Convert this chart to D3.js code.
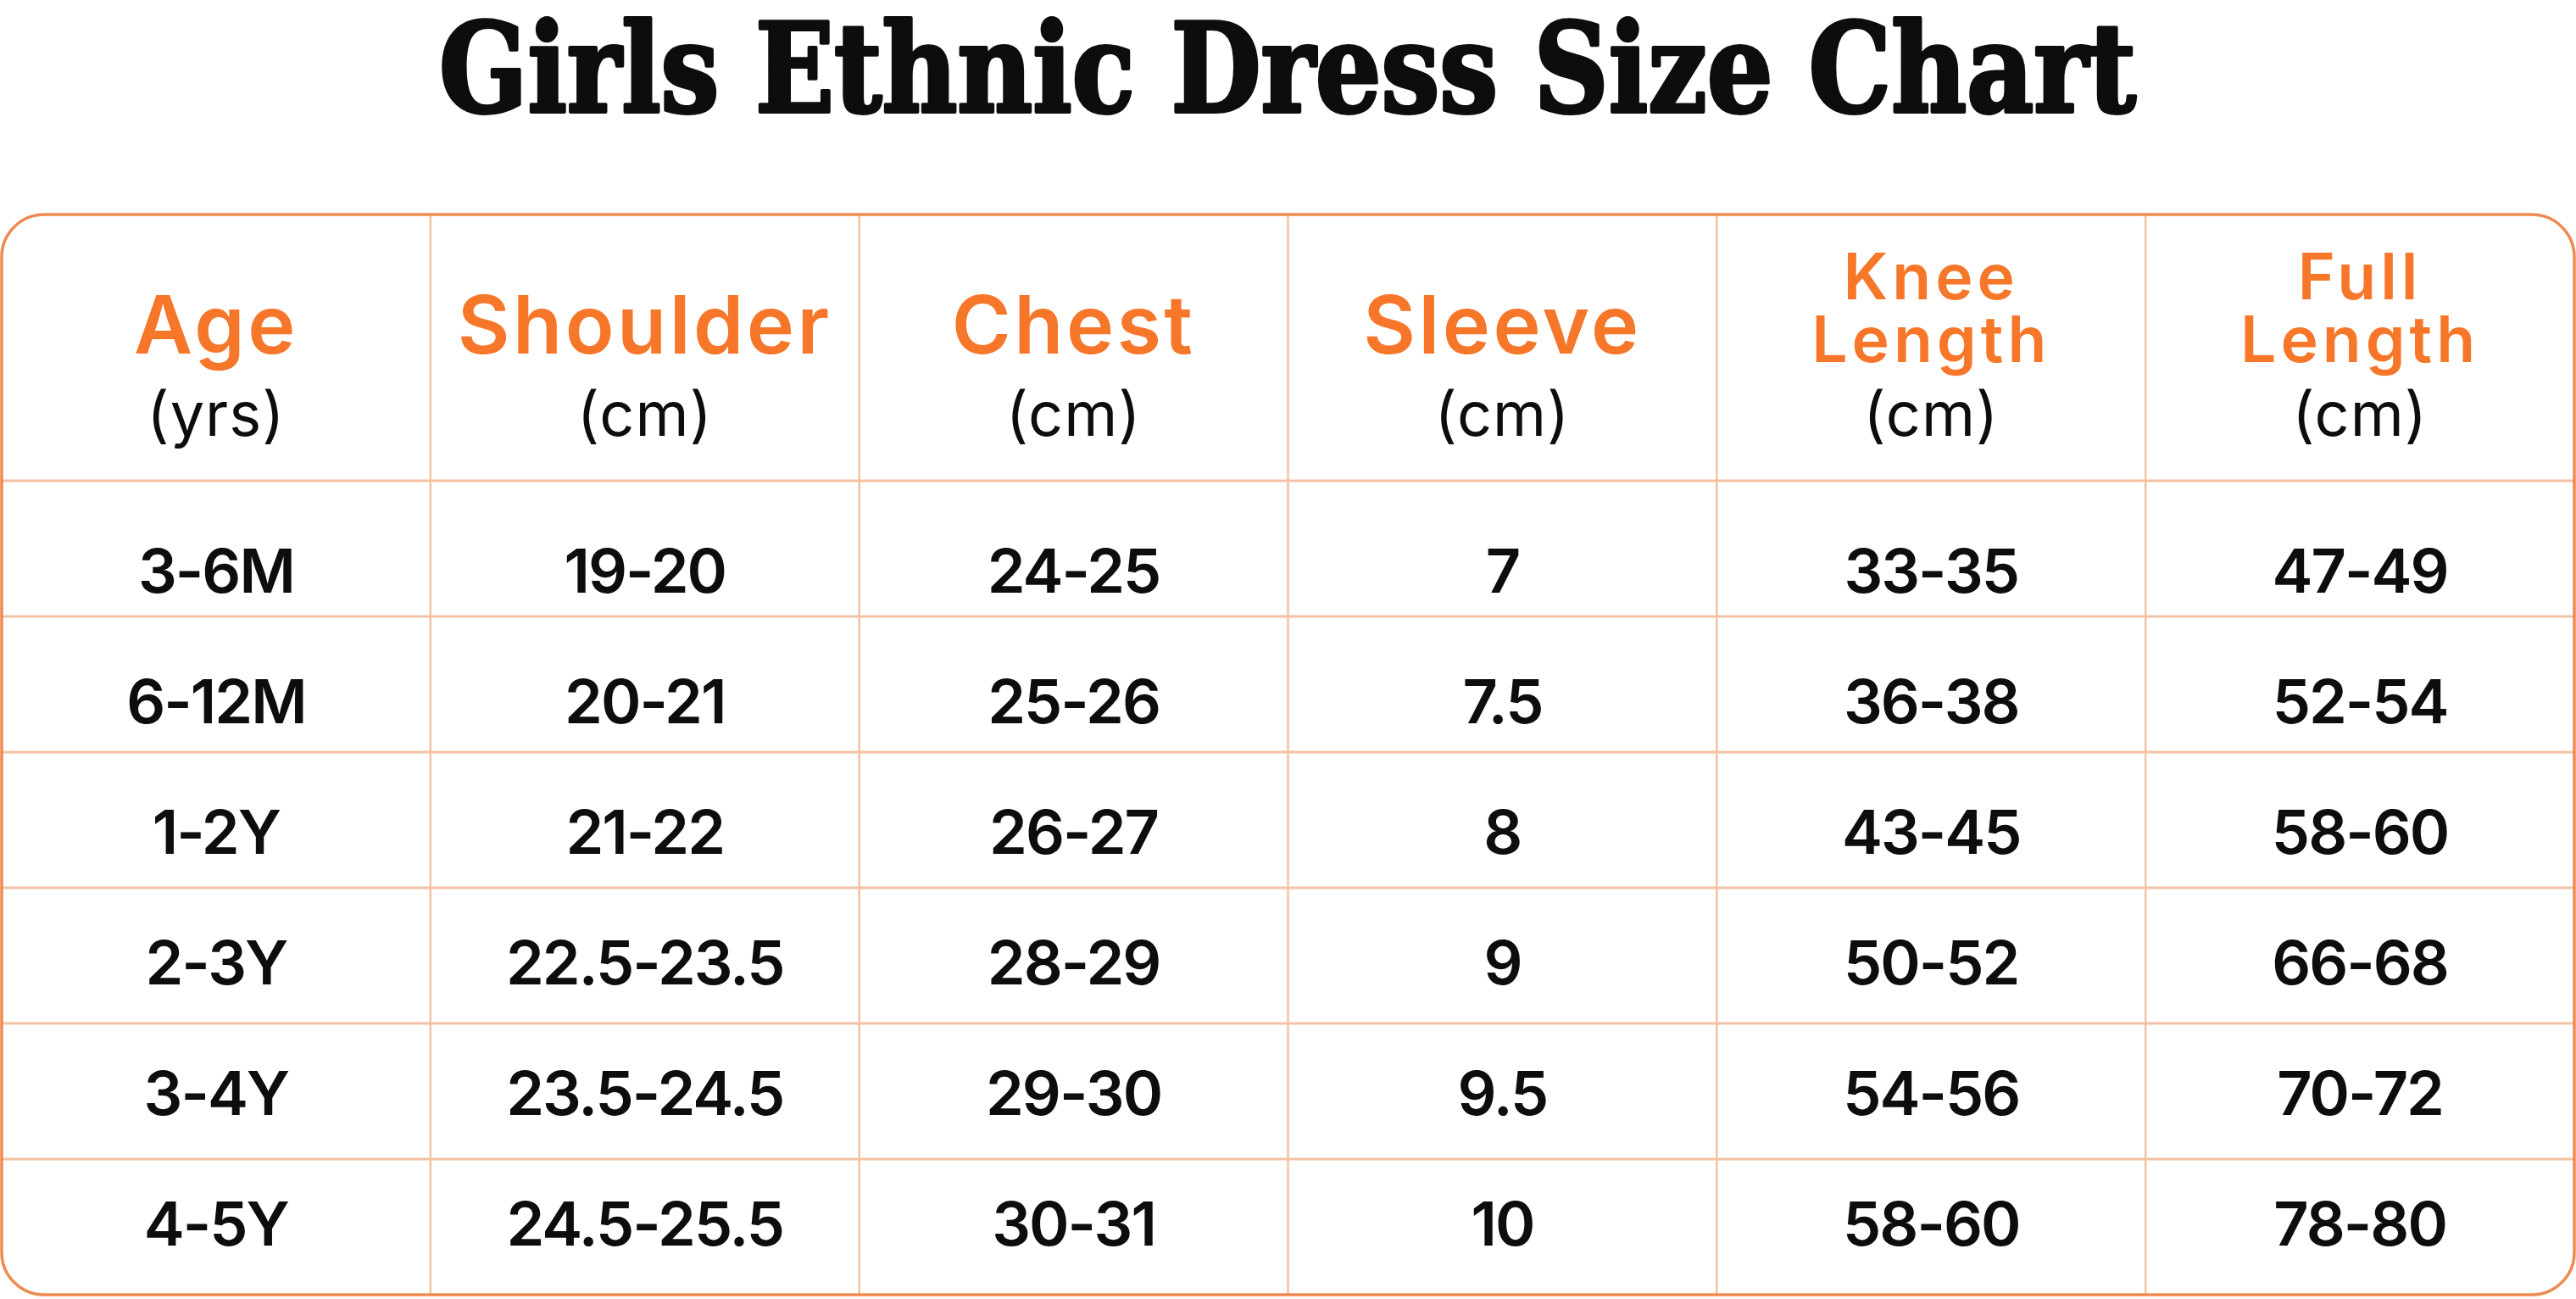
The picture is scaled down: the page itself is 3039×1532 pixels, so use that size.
<!DOCTYPE html>
<html>
<head>
<meta charset="utf-8">
<script src="https://cdn.jsdelivr.net/npm/d3@7"></script>
<style>
  body { margin: 0; background: #ffffff; }
  svg { display: block; }
</style>
</head>
<body>
<svg id="chart" width="3039" height="1532"></svg>
<script>
// Chart title
const title = "Girls Ethnic Dress Size Chart";

// Column headers (each entry = lines of the orange label) and units
const headers = [["Age"], ["Shoulder"], ["Chest"], ["Sleeve"], ["Knee", "Length"], ["Full", "Length"]];
const units = ["(yrs)", "(cm)", "(cm)", "(cm)", "(cm)", "(cm)"];

// Table values, one list per column
const ages = ["3-6M", "6-12M", "1-2Y", "2-3Y", "3-4Y", "4-5Y"];
const shoulder = ["19-20", "20-21", "21-22", "22.5-23.5", "23.5-24.5", "24.5-25.5"];
const chest = ["24-25", "25-26", "26-27", "28-29", "29-30", "30-31"];
const sleeve = ["7", "7.5", "8", "9", "9.5", "10"];
const kneeLength = ["33-35", "36-38", "43-45", "50-52", "54-56", "58-60"];
const fullLength = ["47-49", "52-54", "58-60", "66-68", "70-72", "78-80"];

const columnsData = [ages, shoulder, chest, sleeve, kneeLength, fullLength];

//colors
const orange = "#f7772a";
const borderColor = "#ee8a50";
const gridColor = "#f4c2a3";
const ink = "#0d0d0d";

const svg = d3.select("#chart");

// table box
const boxLeft = 2, boxRight = 3037, boxTop = 253, headBottom = 567, boxBottom = 1527;

//Scales for columns and rows
const xScale = d3.scaleBand()
    .domain(d3.range(headers.length))
    .range([boxLeft, boxRight]);

const yLine = d3.scaleLinear()
    .domain([0, ages.length])
    .range([headBottom, boxBottom]);

const yText = d3.scalePoint()
    .domain(d3.range(ages.length))
    .range([699, 1469]);

// Title (stroke thickens the slab letters)
svg.append("text")
    .attr("x", 518)
    .attr("y", 132)
    .attr("textLength", 2002)
    .attr("lengthAdjust", "spacingAndGlyphs")
    .attr("font-family", "'DejaVu Serif Condensed', 'DejaVu Serif', serif")
    .attr("font-weight", "bold")
    .attr("font-size", 146)
    .attr("fill", ink)
    .attr("stroke", ink)
    .attr("stroke-width", 4)
    .attr("stroke-linejoin", "round")
    .text(title);

// horizontal grid lines
svg.append("g")
    .selectAll("line")
    .data(d3.range(ages.length))
    .join("line")
    .attr("x1", boxLeft)
    .attr("x2", boxRight)
    .attr("y1", d => yLine(d))
    .attr("y2", d => yLine(d))
    .attr("stroke", gridColor)
    .attr("stroke-width", 3);

// vertical grid lines
svg.append("g")
    .selectAll("line")
    .data(d3.range(1, headers.length))
    .join("line")
    .attr("x1", d => xScale(d))
    .attr("x2", d => xScale(d))
    .attr("y1", boxTop)
    .attr("y2", boxBottom)
    .attr("stroke", gridColor)
    .attr("stroke-width", 2.5);

// outer rounded border
svg.append("rect")
    .attr("x", boxLeft)
    .attr("y", boxTop)
    .attr("width", boxRight - boxLeft)
    .attr("height", boxBottom - boxTop)
    .attr("rx", 50)
    .attr("fill", "none")
    .attr("stroke", borderColor)
    .attr("stroke-width", 3.5);

// Header labels
const head = svg.append("g")
    .selectAll("g")
    .data(headers)
    .join("g")
    .attr("transform", (d, i) => "translate(" + (xScale(i) + xScale.bandwidth() / 2) + ",0)");

head.each(function(lines) {
    const g = d3.select(this);
    const two = lines.length > 1;
    g.selectAll("text.h")
        .data(lines)
        .join("text")
        .attr("class", "h")
        .attr("y", (d, j) => two ? 353 + j * 74 : 417)
        .attr("text-anchor", "middle")
        .attr("font-family", "Inter, sans-serif")
        .attr("font-weight", 600)
        .attr("font-size", two ? 75 : 95)
        .attr("letter-spacing", two ? 5 : 3.5)
        .attr("fill", orange)
        .text(d => d);
});

head.append("text")
    .attr("y", 514)
    .attr("text-anchor", "middle")
    .attr("font-family", "Inter, sans-serif")
    .attr("font-weight", 400)
    .attr("font-size", 72)
    .attr("letter-spacing", 1)
    .attr("fill", ink)
    .text((d, i) => units[i]);

// Cell values
columnsData.forEach((values, c) => {
    svg.append("g")
        .selectAll("text")
        .data(values)
        .join("text")
        .attr("x", xScale(c) + xScale.bandwidth() / 2)
        .attr("y", (d, r) => yText(r))
        .attr("text-anchor", "middle")
        .attr("font-family", "Inter, sans-serif")
        .attr("font-weight", 600)
        .attr("font-size", 72)
        .attr("letter-spacing", -2)
        .attr("fill", ink)
        .text(d => d);
});
</script>
</body>
</html>
